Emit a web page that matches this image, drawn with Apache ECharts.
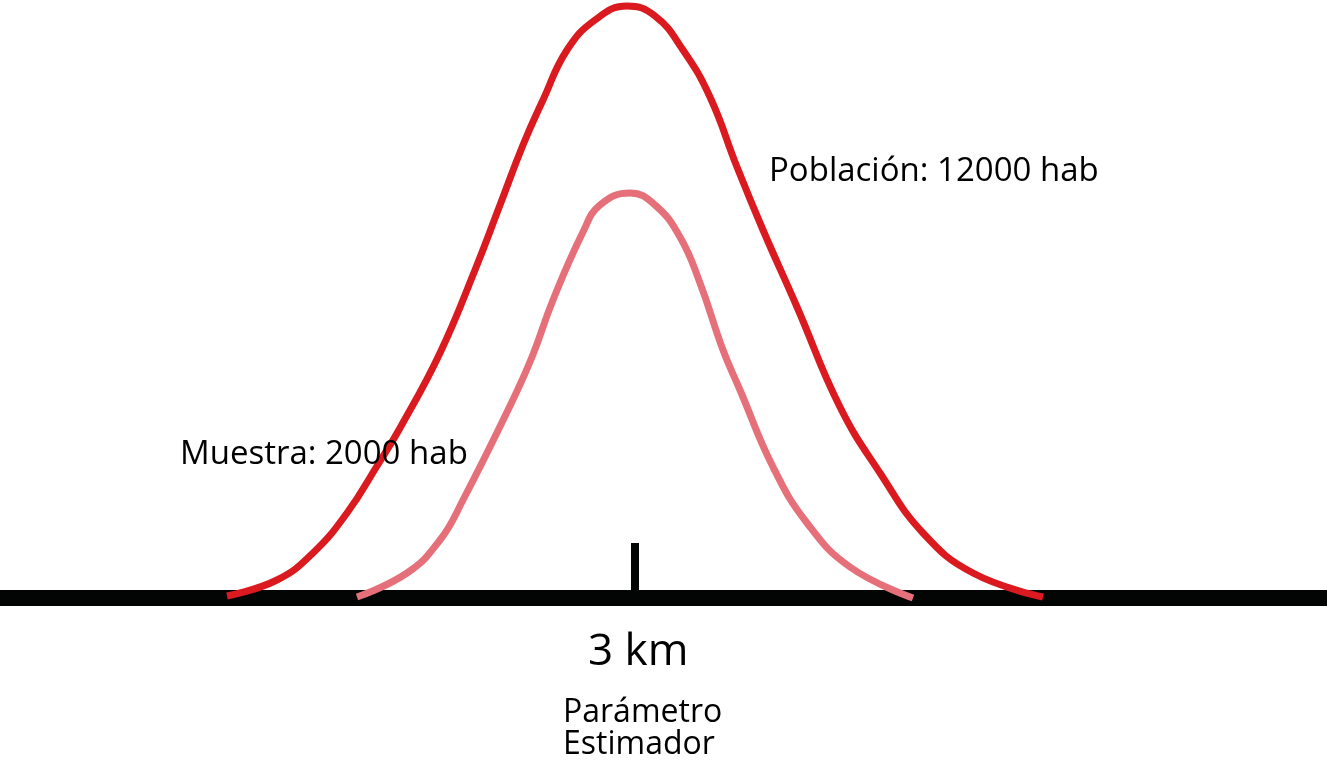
<!DOCTYPE html>
<html>
<head>
<meta charset="utf-8">
<script src="https://cdn.jsdelivr.net/npm/echarts@6/dist/echarts.min.js"></script>
<style>
  html, body { margin: 0; padding: 0; background: #fff; }
  #chart { width: 1327px; height: 765px; }
</style>
</head>
<body>
<div id="chart"></div>
<script>
// x: horizontal position, y: height above the baseline (same units as screen px)
const poblacionX = [227, 277, 313, 347, 377, 400, 440, 475, 500, 523, 543, 567, 595, 627, 655, 683, 710, 737, 763, 797, 840, 880, 923, 973, 1043]
const poblacionY = [2, 18, 45, 85, 132, 170, 245, 328, 393, 453, 498, 548, 578, 592, 582, 548, 501, 431, 368, 291, 191, 125, 65, 25, 1]
const muestraX = [357, 407, 440, 463, 508, 532, 553, 583, 600, 630, 655, 680, 700, 723, 740, 773, 807, 850, 913]
const muestraY = [1, 25, 58, 98, 188, 241, 298, 366, 393, 405, 393, 361, 315, 248, 208, 131, 75, 31, 0]
const baseX = [0, 1327]
const tickX = 635
const tickY = [0, 55]
const labels = {
    poblacion: "Población: 12000 hab",
    muestra: "Muestra: 2000 hab",
    valor: "3 km",
    nombre: ["Parámetro", "Estimador"],
}

const zip = (xs, ys) => xs.map((x, i) => [x, ys[i]])
const font = "'Open Sans', 'Noto Sans', sans-serif"

const chart = echarts.init(document.getElementById("chart"), null, { renderer: "canvas" })
chart.setOption({
    animation: false,
    grid: { left: 0, right: 0, top: 0, bottom: 0 },
    xAxis: { type: "value", min: 0, max: 1327, show: false },
    yAxis: { type: "value", min: -167, max: 598, show: false },
    series: [
        {
            name: "base",
            type: "line",
            data: baseX.map(x => [x, 0]),
            showSymbol: false,
            lineStyle: { color: "#030505", width: 16 },
            z: 1,
        },
        {
            name: "tick",
            type: "line",
            data: tickY.map(y => [tickX, y]),
            showSymbol: false,
            lineStyle: { color: "#030505", width: 8 },
            z: 1,
        },
        {
            name: "Muestra",
            type: "line",
            data: zip(muestraX, muestraY),
            smooth: 0.45,
            showSymbol: false,
            lineStyle: { color: "#E5707A", width: 7 },
            z: 2,
        },
        {
            name: "Población",
            type: "line",
            data: zip(poblacionX, poblacionY),
            smooth: 0.45,
            showSymbol: false,
            lineStyle: { color: "#DA1A1F", width: 7 },
            z: 3,
        },
    ],
    graphic: [
        { type: "text", left: 769, top: 155, z: 10, style: { text: labels.poblacion, font: "33px " + font, fill: "#000" } },
        { type: "text", left: 180, top: 438, z: 10, style: { text: labels.muestra, font: "33px " + font, fill: "#000" } },
        { type: "text", left: 588, top: 630, z: 10, style: { text: labels.valor, font: "44px " + font, fill: "#000" } },
        { type: "text", left: 563, top: 697, z: 10, style: { text: labels.nombre[0], font: "32px " + font, fill: "#000" } },
        { type: "text", left: 563, top: 729, z: 10, style: { text: labels.nombre[1], font: "32px " + font, fill: "#000" } },
    ],
})
</script>
</body>
</html>
